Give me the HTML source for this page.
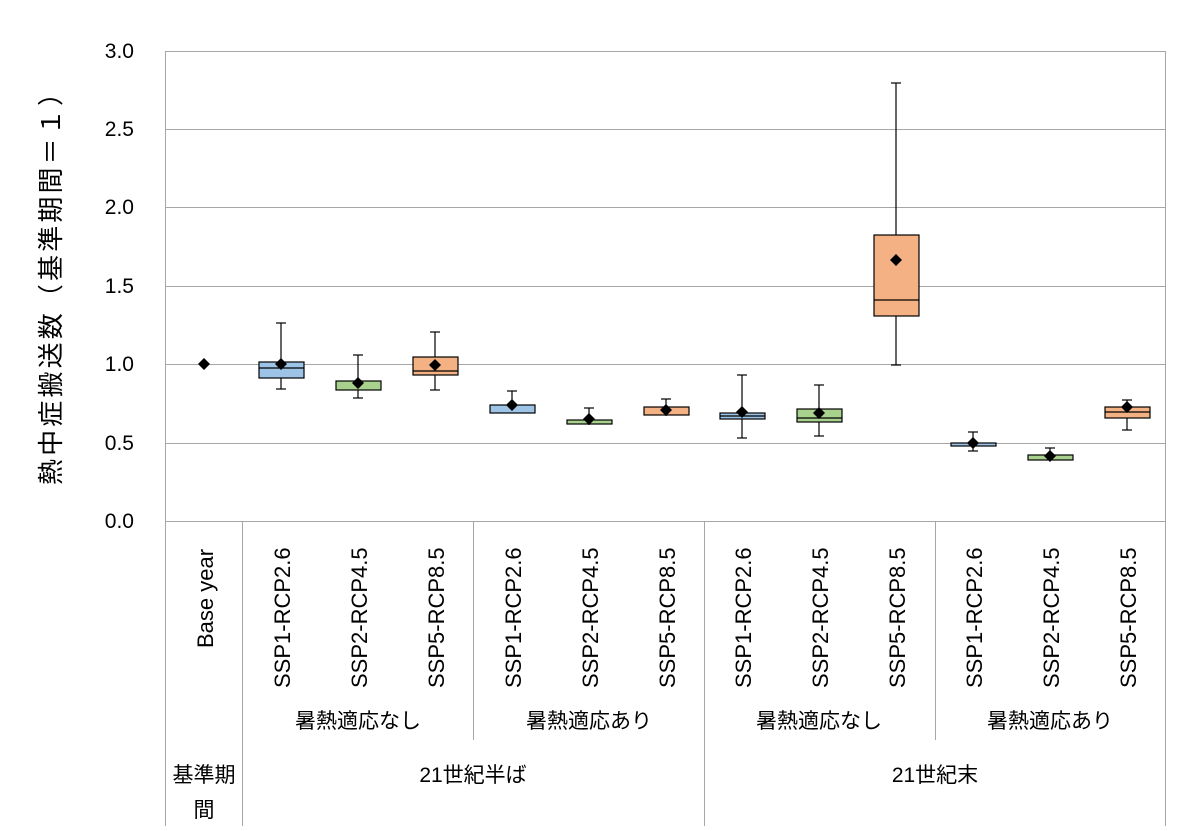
<!DOCTYPE html>
<html><head><meta charset="utf-8"><style>
body{margin:0;background:#fff}
svg text{font-family:"Liberation Sans","Noto Sans CJK JP",sans-serif;fill:#000}
</style></head><body>
<svg width="1200" height="826" viewBox="0 0 1200 826" xmlns="http://www.w3.org/2000/svg">
<g stroke="#a6a6a6" stroke-width="1">
<line x1="165" y1="51.5" x2="1165" y2="51.5"/>
<line x1="165" y1="129.5" x2="1165" y2="129.5"/>
<line x1="165" y1="207.5" x2="1165" y2="207.5"/>
<line x1="165" y1="286.5" x2="1165" y2="286.5"/>
<line x1="165" y1="364.5" x2="1165" y2="364.5"/>
<line x1="165" y1="443.5" x2="1165" y2="443.5"/>
<line x1="165" y1="521.5" x2="1165" y2="521.5"/>
<line x1="165.5" y1="51" x2="165.5" y2="826"/>
<line x1="1165.5" y1="51" x2="1165.5" y2="826"/>
<line x1="242.5" y1="521" x2="242.5" y2="826"/>
<line x1="473.5" y1="521" x2="473.5" y2="740"/>
<line x1="704.5" y1="521" x2="704.5" y2="826"/>
<line x1="935.5" y1="521" x2="935.5" y2="740"/>
</g>
<g font-size="21" text-anchor="end">
<text x="134" y="58">3.0</text><text x="134" y="136">2.5</text><text x="134" y="214">2.0</text>
<text x="134" y="293">1.5</text><text x="134" y="371">1.0</text><text x="134" y="450">0.5</text><text x="134" y="528">0.0</text>
</g>
<text transform="translate(60,485) rotate(-90)" font-size="26" textLength="405" lengthAdjust="spacing">熱中症搬送数（基準期間＝１）</text>
<g stroke="#000" stroke-width="1.2">
<g fill="#9dc3e6"><line x1="281" y1="323" x2="281" y2="389"/><line x1="276" y1="323" x2="286" y2="323"/><line x1="276" y1="389" x2="286" y2="389"/><rect x="259" y="362" width="45" height="16"/><line x1="259" y1="368" x2="304" y2="368"/></g>
<g fill="#a9d18e"><line x1="358" y1="355" x2="358" y2="398"/><line x1="353" y1="355" x2="363" y2="355"/><line x1="353" y1="398" x2="363" y2="398"/><rect x="336" y="381" width="45" height="9"/></g>
<g fill="#f4b183"><line x1="435" y1="332" x2="435" y2="390"/><line x1="430" y1="332" x2="440" y2="332"/><line x1="430" y1="390" x2="440" y2="390"/><rect x="413" y="357" width="45" height="18"/><line x1="413" y1="371" x2="458" y2="371"/></g>
<g fill="#9dc3e6"><line x1="512" y1="391" x2="512" y2="413"/><line x1="507" y1="391" x2="517" y2="391"/><rect x="490" y="405" width="45" height="8"/></g>
<g fill="#a9d18e"><line x1="589" y1="408" x2="589" y2="425"/><line x1="584" y1="408" x2="594" y2="408"/><rect x="567" y="420" width="45" height="4"/></g>
<g fill="#f4b183"><line x1="666" y1="399" x2="666" y2="416"/><line x1="661" y1="399" x2="671" y2="399"/><rect x="644" y="407" width="45" height="8"/></g>
<g fill="#9dc3e6"><line x1="742" y1="375" x2="742" y2="438"/><line x1="737" y1="375" x2="747" y2="375"/><line x1="737" y1="438" x2="747" y2="438"/><rect x="720" y="413" width="45" height="6"/><line x1="720" y1="416" x2="765" y2="416"/></g>
<g fill="#a9d18e"><line x1="819" y1="385" x2="819" y2="436"/><line x1="814" y1="385" x2="824" y2="385"/><line x1="814" y1="436" x2="824" y2="436"/><rect x="797" y="409" width="45" height="13"/><line x1="797" y1="418" x2="842" y2="418"/></g>
<g fill="#f4b183"><line x1="896" y1="83" x2="896" y2="365"/><line x1="891" y1="83" x2="901" y2="83"/><line x1="891" y1="365" x2="901" y2="365"/><rect x="874" y="235" width="45" height="81"/><line x1="874" y1="300" x2="919" y2="300"/></g>
<g fill="#9dc3e6"><line x1="973" y1="432" x2="973" y2="451"/><line x1="968" y1="432" x2="978" y2="432"/><line x1="968" y1="451" x2="978" y2="451"/><rect x="951" y="443" width="45" height="3"/></g>
<g fill="#a9d18e"><line x1="1050" y1="448" x2="1050" y2="461"/><line x1="1045" y1="448" x2="1055" y2="448"/><rect x="1028" y="455" width="45" height="5"/></g>
<g fill="#f4b183"><line x1="1127" y1="400" x2="1127" y2="430"/><line x1="1122" y1="400" x2="1132" y2="400"/><line x1="1122" y1="430" x2="1132" y2="430"/><rect x="1105" y="407" width="45" height="11"/><line x1="1105" y1="412" x2="1150" y2="412"/></g>
</g>
<g fill="#000">
<path d="M204 358l6 6-6 6-6-6z"/><path d="M281 358l6 6-6 6-6-6z"/><path d="M358 377l6 6-6 6-6-6z"/>
<path d="M435 359l6 6-6 6-6-6z"/><path d="M512 399l6 6-6 6-6-6z"/><path d="M589 413l6 6-6 6-6-6z"/>
<path d="M666 404l6 6-6 6-6-6z"/><path d="M742 406l6 6-6 6-6-6z"/><path d="M819 407l6 6-6 6-6-6z"/>
<path d="M896 254l6 6-6 6-6-6z"/><path d="M973 437l6 6-6 6-6-6z"/><path d="M1050 450l6 6-6 6-6-6z"/>
<path d="M1127 401l6 6-6 6-6-6z"/>
</g>
<g font-size="22">
<text transform="translate(213,648) rotate(-90)">Base year</text>
<text transform="translate(290,688) rotate(-90)">SSP1-RCP2.6</text>
<text transform="translate(367,688) rotate(-90)">SSP2-RCP4.5</text>
<text transform="translate(444,688) rotate(-90)">SSP5-RCP8.5</text>
<text transform="translate(521,688) rotate(-90)">SSP1-RCP2.6</text>
<text transform="translate(598,688) rotate(-90)">SSP2-RCP4.5</text>
<text transform="translate(675,688) rotate(-90)">SSP5-RCP8.5</text>
<text transform="translate(751,688) rotate(-90)">SSP1-RCP2.6</text>
<text transform="translate(828,688) rotate(-90)">SSP2-RCP4.5</text>
<text transform="translate(905,688) rotate(-90)">SSP5-RCP8.5</text>
<text transform="translate(982,688) rotate(-90)">SSP1-RCP2.6</text>
<text transform="translate(1059,688) rotate(-90)">SSP2-RCP4.5</text>
<text transform="translate(1136,688) rotate(-90)">SSP5-RCP8.5</text>
</g>
<g font-size="21" text-anchor="middle">
<text x="358" y="728">暑熱適応なし</text><text x="589" y="728">暑熱適応あり</text>
<text x="819" y="728">暑熱適応なし</text><text x="1050" y="728">暑熱適応あり</text>
<text x="473" y="782">21世紀半ば</text><text x="935" y="782">21世紀末</text>
<text x="204" y="782">基準期</text><text x="204" y="817">間</text>
</g>
</svg>
</body></html>
